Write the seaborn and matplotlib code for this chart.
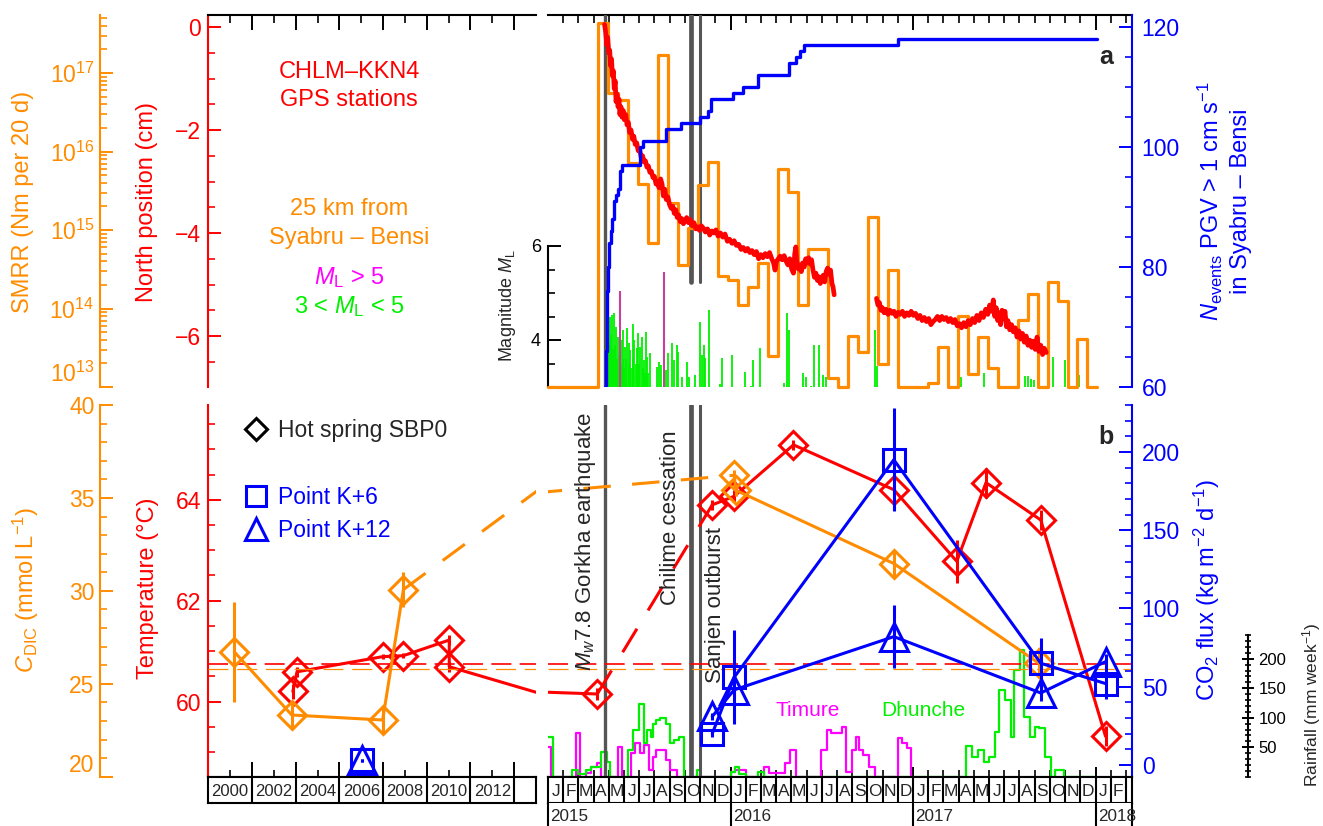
import numpy as np
import matplotlib
matplotlib.use("Agg")
import matplotlib.pyplot as plt
import seaborn as sns
from matplotlib.lines import Line2D
from matplotlib.ticker import NullFormatter

sns.set_style("ticks")
plt.rcParams["font.family"] = ["Liberation Sans", "DejaVu Sans"]
plt.rcParams["mathtext.fontset"] = "custom"
plt.rcParams["mathtext.rm"] = "Liberation Sans"
plt.rcParams["mathtext.it"] = "Liberation Sans:italic"
plt.rcParams["mathtext.bf"] = "Liberation Sans:bold"
plt.rcParams["axes.linewidth"] = 1.5

RED, ORANGE, BLUE = "#ff0000", "#ff8c00", "#0000ff"
LIME, MAGENTA, PURPLE, GREY = "#00f000", "#ff00ff", "#c8409c", "#555555"

# ---------------- panel a data ----------------
# seismic moment release rate 25 km from Syabru-Bensi, log10(Nm per 20 d)
smrr_before = 13.0
smrr_first_bin = 2015.273
smrr_bin_days = 20
smrr_log10 = [17.64, 16.74, 16.66, 15.86, 15.59, 14.84, 17.23, 15.35, 14.56, 15.02,
              15.57, 15.87, 14.41, 14.36, 14.04, 14.27, 14.58, 13.40, 15.78, 15.48,
              14.04, 14.76, 14.76, 13.12, 13.00, 13.65, 13.45, 15.17, 13.29, 14.49,
              13.00, 13.00, 13.00, 13.05, 13.51, 13.00, 13.91, 13.17, 13.64, 13.24,
              13.00, 13.00, 13.85, 14.18, 13.00, 14.34, 14.10, 13.00, 13.61, 13.00]

# cumulative number of events with PGV > 1 cm/s
nev_year = [2015.315, 2015.318, 2015.321, 2015.324, 2015.328, 2015.333, 2015.345, 2015.352,
            2015.363, 2015.375, 2015.384, 2015.394, 2015.405, 2015.504, 2015.520, 2015.646,
            2015.730, 2015.835, 2015.877, 2015.894, 2016.013, 2016.066, 2016.150, 2016.318,
            2016.360, 2016.381, 2016.402, 2016.916, 2018.007]
nev_count = [60, 66, 72, 76, 80, 84, 86, 88, 91, 92, 93, 96, 97, 100, 101, 103, 104, 105,
             106, 108, 109, 110, 112, 114, 115, 116, 117, 118, 118]

# CHLM-KKN4 GPS north position (cm)
gps_seg1 = [(2015.310, 0.05), (2015.316, -0.10), (2015.322, -0.35), (2015.327, -0.20),
            (2015.333, -0.50), (2015.338, -0.45), (2015.343, -0.75), (2015.348, -0.62),
            (2015.353, -0.95), (2015.358, -0.85), (2015.363, -1.20), (2015.368, -1.05),
            (2015.373, -1.45), (2015.378, -1.30), (2015.384, -1.55), (2015.389, -1.40),
            (2015.394, -1.70), (2015.400, -1.55), (2015.405, -1.75), (2015.412, -1.62),
            (2015.418, -1.80), (2015.426, -1.70), (2015.433, -1.90), (2015.440, -1.85),
            (2015.447, -2.05), (2015.455, -2.00), (2015.463, -2.18), (2015.470, -2.12),
            (2015.478, -2.28), (2015.486, -2.25), (2015.494, -2.40), (2015.502, -2.38),
            (2015.510, -2.52), (2015.518, -2.50), (2015.526, -2.62), (2015.534, -2.60),
            (2015.542, -2.72), (2015.550, -2.70), (2015.558, -2.82), (2015.566, -2.80),
            (2015.575, -2.92), (2015.583, -2.90), (2015.592, -3.05), (2015.600, -3.00),
            (2015.608, -3.12), (2015.617, -2.95), (2015.625, -3.05), (2015.632, -3.28),
            (2015.640, -3.15), (2015.648, -3.35), (2015.657, -3.30), (2015.666, -3.45),
            (2015.675, -3.52), (2015.684, -3.48), (2015.692, -3.62), (2015.700, -3.55),
            (2015.708, -3.70), (2015.716, -3.65), (2015.725, -3.78), (2015.733, -3.72),
            (2015.742, -3.82), (2015.751, -3.76), (2015.760, -3.70), (2015.770, -3.80),
            (2015.780, -3.74), (2015.790, -3.86), (2015.800, -3.80), (2015.810, -3.92),
            (2015.820, -3.88), (2015.830, -3.95), (2015.840, -3.86), (2015.850, -3.90),
            (2015.862, -3.98), (2015.874, -3.92), (2015.886, -4.04), (2015.898, -3.96),
            (2015.910, -4.00), (2015.920, -3.94), (2015.932, -4.06), (2015.945, -4.00),
            (2015.958, -4.08), (2015.970, -4.02), (2015.983, -4.16), (2015.995, -4.12),
            (2016.008, -4.20), (2016.020, -4.15), (2016.032, -4.24), (2016.045, -4.22),
            (2016.058, -4.32), (2016.070, -4.28), (2016.082, -4.35), (2016.094, -4.30),
            (2016.106, -4.38), (2016.118, -4.34), (2016.130, -4.42), (2016.142, -4.36),
            (2016.154, -4.50), (2016.166, -4.42), (2016.178, -4.48), (2016.190, -4.40),
            (2016.202, -4.46), (2016.214, -4.38), (2016.226, -4.50), (2016.236, -4.58),
            (2016.244, -4.72), (2016.252, -4.55), (2016.262, -4.50), (2016.272, -4.45),
            (2016.283, -4.52), (2016.294, -4.44), (2016.305, -4.55), (2016.315, -4.62),
            (2016.325, -4.50), (2016.335, -4.70), (2016.345, -4.78), (2016.352, -4.40),
            (2016.358, -4.27), (2016.364, -4.60), (2016.372, -4.70), (2016.380, -4.62),
            (2016.388, -4.75), (2016.396, -4.58), (2016.404, -4.66), (2016.412, -4.50),
            (2016.420, -4.58), (2016.428, -4.48), (2016.436, -4.60), (2016.444, -4.52),
            (2016.452, -4.72), (2016.460, -4.86), (2016.468, -4.78), (2016.476, -4.92),
            (2016.484, -4.85), (2016.492, -4.98), (2016.500, -4.90), (2016.508, -4.82),
            (2016.516, -4.95), (2016.524, -4.75), (2016.532, -4.68), (2016.540, -4.80),
            (2016.548, -4.72), (2016.556, -4.98), (2016.562, -5.05), (2016.568, -5.20)]
gps_seg2 = [(2016.800, -5.27), (2016.808, -5.40), (2016.816, -5.35), (2016.824, -5.50),
            (2016.832, -5.45), (2016.842, -5.55), (2016.852, -5.48), (2016.863, -5.58),
            (2016.874, -5.50), (2016.885, -5.56), (2016.896, -5.52), (2016.907, -5.62),
            (2016.918, -5.54), (2016.930, -5.58), (2016.942, -5.52), (2016.954, -5.62),
            (2016.966, -5.55), (2016.978, -5.60), (2016.990, -5.52), (2017.002, -5.60),
            (2017.014, -5.56), (2017.026, -5.66), (2017.038, -5.60), (2017.050, -5.70),
            (2017.062, -5.64), (2017.074, -5.72), (2017.086, -5.66), (2017.098, -5.78),
            (2017.110, -5.72), (2017.122, -5.68), (2017.134, -5.62), (2017.146, -5.70),
            (2017.158, -5.62), (2017.170, -5.68), (2017.182, -5.64), (2017.194, -5.72),
            (2017.206, -5.66), (2017.218, -5.74), (2017.230, -5.68), (2017.242, -5.80),
            (2017.254, -5.76), (2017.266, -5.84), (2017.278, -5.74), (2017.290, -5.82),
            (2017.302, -5.70), (2017.314, -5.78), (2017.326, -5.66), (2017.338, -5.74),
            (2017.350, -5.60), (2017.362, -5.70), (2017.374, -5.55), (2017.386, -5.64),
            (2017.398, -5.48), (2017.410, -5.58), (2017.420, -5.40), (2017.430, -5.52),
            (2017.440, -5.30), (2017.448, -5.62), (2017.456, -5.45), (2017.464, -5.70),
            (2017.472, -5.55), (2017.480, -5.78), (2017.488, -5.50), (2017.496, -5.66),
            (2017.504, -5.52), (2017.512, -5.82), (2017.520, -5.70), (2017.530, -5.88),
            (2017.540, -5.78), (2017.550, -5.92), (2017.560, -5.84), (2017.570, -6.02),
            (2017.580, -5.90), (2017.590, -6.06), (2017.600, -5.95), (2017.610, -6.12),
            (2017.620, -6.00), (2017.630, -6.18), (2017.640, -6.08), (2017.650, -6.22),
            (2017.660, -6.10), (2017.670, -6.26), (2017.680, -6.02), (2017.690, -6.30),
            (2017.700, -6.18), (2017.710, -6.36), (2017.720, -6.24), (2017.730, -6.32)]

# local magnitudes, 3 < ML < 5 and ML > 5
quakes = [(2015.322, 4.85), (2015.326, 4.85), (2015.330, 4.30), (2015.335, 3.90), (2015.340, 4.50),
          (2015.345, 4.10), (2015.349, 4.53), (2015.355, 3.80), (2015.362, 4.58), (2015.367, 3.90),
          (2015.373, 4.28), (2015.378, 3.60), (2015.382, 4.07), (2015.388, 3.70), (2015.398, 3.50),
          (2015.404, 4.00), (2015.409, 3.60), (2015.413, 4.21), (2015.418, 3.40), (2015.422, 3.86),
          (2015.428, 3.60), (2015.435, 4.25), (2015.442, 3.93), (2015.446, 3.50), (2015.450, 3.79),
          (2015.456, 3.40), (2015.464, 4.35), (2015.468, 3.60), (2015.473, 4.00), (2015.480, 3.50),
          (2015.486, 3.82), (2015.490, 3.30), (2015.495, 4.14), (2015.500, 3.50), (2015.504, 3.86),
          (2015.514, 4.07), (2015.520, 3.40), (2015.526, 3.57), (2015.532, 3.30), (2015.537, 4.18),
          (2015.545, 3.64), (2015.550, 3.30), (2015.559, 3.72), (2015.596, 3.43), (2015.607, 3.54),
          (2015.618, 3.47), (2015.647, 3.36), (2015.660, 3.72), (2015.679, 3.94), (2015.688, 3.57),
          (2015.706, 3.89), (2015.715, 3.75), (2015.734, 3.22), (2015.762, 3.54), (2015.771, 3.22),
          (2015.807, 3.25), (2015.831, 4.39), (2015.844, 3.68), (2015.853, 3.89), (2015.862, 3.61),
          (2015.880, 4.64), (2015.944, 3.06), (2015.953, 3.61), (2016.008, 3.68), (2016.082, 3.32),
          (2016.113, 3.02), (2016.122, 3.57), (2016.164, 3.82), (2016.292, 3.08), (2016.310, 4.57),
          (2016.319, 4.21), (2016.398, 3.29), (2016.411, 3.22), (2016.442, 3.02), (2016.460, 3.89),
          (2016.486, 3.90), (2016.508, 3.25), (2016.526, 3.22), (2016.790, 4.21), (2016.800, 3.45),
          (2016.916, 3.79), (2017.262, 3.22), (2017.388, 3.29), (2017.614, 3.24), (2017.629, 3.23),
          (2017.644, 3.18), (2017.661, 3.15), (2017.765, 3.64), (2017.833, 3.57), (2017.912, 3.26)]
big_quake_year = [2015.395, 2015.636]
big_quake_ml = [5.04, 5.44]

# key events
event_year = [2015.315, 2015.783, 2015.835]
event_name = ["$M_w$7.8 Gorkha earthquake", "Chilime cessation", "Sanjen outburst"]

# ---------------- panel b data ----------------
temp_year = [2003.87, 2004.06, 2007.98, 2008.93, 2011.03, 2011.03, 2015.27, 2015.90,
             2016.02, 2016.345, 2016.895, 2017.24, 2017.40, 2017.70, 2018.055]
temp_c = [60.20, 60.59, 60.89, 60.91, 61.22, 60.69, 60.15, 63.90,
          64.07, 65.09, 64.20, 62.78, 64.34, 63.60, 59.31]
temp_err = [0.15, 0.10, 0.05, 0.05, 0.10, 0.10, 0.12, 0.10, 0.12, 0.10, 0.40, 0.42, 0.30, 0.20, 0.20]
temp_ref = 60.75

dic_year = [2001.19, 2003.82, 2007.98, 2008.93, 2016.02, 2016.03, 2016.895, 2017.69]
dic_mmol = [26.72, 23.32, 23.05, 30.07, 36.22, 35.41, 31.47, 26.10]
dic_err = [2.70, 0.75, 0.75, 0.95, 0.30, 0.30, 0.75, 0.80]
dic_ref = 25.8

k6_year = [2007.02, 2015.90, 2016.02, 2016.895, 2017.70, 2018.055]
k6_flux = [3, 20, 56, 195, 65, 52]
k6_err = [1, 2, 30, 33, 16, 10]
k12_year = [2007.02, 2015.90, 2016.02, 2016.895, 2017.70, 2018.055]
k12_flux = [3, 31, 48, 82, 46, 66]
k12_err = [1, 2, 3, 20, 5, 5]

# weekly rainfall (mm), step starts
timure_year = [2015.000, 2015.017, 2015.153, 2015.174, 2015.206, 2015.237, 2015.269, 2015.290,
               2015.384, 2015.405, 2015.457, 2015.478, 2015.504, 2015.525, 2015.552, 2015.573,
               2015.594, 2015.646, 2015.667, 2015.709, 2016.003, 2016.024, 2016.087, 2016.181,
               2016.213, 2016.297, 2016.328, 2016.360, 2016.496, 2016.527, 2016.548, 2016.611,
               2016.632, 2016.664, 2016.685, 2016.706, 2016.727, 2016.758, 2016.790, 2016.916,
               2016.937, 2016.968, 2016.989, 2016.995]
timure_mm = [51, 0, 74, 0, 6, 17, 23, 0, 51, 0, 40, 57, 40, 54, 11, 34, 45, 28, 11, 0,
             8, 11, 0, 17, 6, 23, 45, 0, 45, 79, 74, 85, 8, 45, 68, 45, 37, 17, 0, 65,
             57, 48, 0, 0]
dhunche_year = [2015.000, 2015.027, 2015.132, 2015.164, 2015.206, 2015.237, 2015.290, 2015.321,
                2015.342, 2015.436, 2015.468, 2015.499, 2015.525, 2015.541, 2015.562, 2015.573,
                2015.594, 2015.615, 2015.646, 2015.667, 2015.688, 2015.720, 2015.747, 2015.814,
                2015.835, 2016.003, 2016.024, 2016.045, 2016.087, 2016.150, 2016.181, 2017.293,
                2017.325, 2017.356, 2017.388, 2017.419, 2017.451, 2017.472, 2017.503, 2017.535,
                2017.556, 2017.587, 2017.608, 2017.640, 2017.671, 2017.692, 2017.724, 2017.755,
                2017.776, 2017.828, 2017.990]
dhunche_mm = [68, 0, 11, 5, 11, 17, 42, 25, 0, 45, 79, 124, 57, 79, 68, 90, 96, 99, 90, 57,
              62, 68, 0, 11, 0, 8, 17, 5, 0, 8, 0, 52, 34, 45, 25, 34, 76, 147, 130, 68,
              181, 215, 102, 68, 85, 82, 34, 0, 11, 0, 0]

# axis labels of the date rows
month_letters = ["J", "F", "M", "A", "M", "J", "J", "A", "S", "O", "N", "D"]
n_months = 38
right_years = [2015, 2016, 2017, 2018]
left_years = [2000, 2002, 2004, 2006, 2008, 2010, 2012]

# ---------------- layout ----------------
W, H = 1323, 826
fig = plt.figure(figsize=(W / 100, H / 100), dpi=100)

XL0, XL1, XR0, XR1 = 208.3, 536.0, 548.0, 1132.0
YA0, YA1, YB0, YB1, YM1 = 15.0, 387.0, 405.0, 776.7, 802.7
LEFT_SPAN, RIGHT_SPAN = (2000, 2015), (2015, 2018.2)
OUT_L = -(XL0 - 100.0) / (XL1 - XL0)
RAIN_POS = (1248.0 - XR0) / (XR1 - XR0)
month_edges = 2015 + np.arange(1, n_months + 1) / 12


def box(x0, x1, y0, y1):
    return [x0 / W, 1 - y1 / H, (x1 - x0) / W, (y1 - y0) / H]


def ftext(x, y, s, **kw):
    kw.setdefault("ha", "center")
    kw.setdefault("va", "center")
    fig.text(x / W, 1 - y / H, s, **kw)


def bare(ax):
    for sp in ax.spines.values():
        sp.set_visible(False)
    ax.tick_params(which="both", left=False, right=False, top=False, bottom=False,
                   labelleft=False, labelright=False, labeltop=False, labelbottom=False)


def yside(ax, side, color, major, minor, lim, size=16.5, pad=5, direction="in", lmaj=9.5, lmin=5):
    sp = ax.spines[side]
    sp.set_visible(True)
    sp.set_color(color)
    sp.set_linewidth(1.5)
    ax.set_yticks(major)
    ax.set_yticks(minor, minor=True)
    ax.yaxis.set_minor_formatter(NullFormatter())
    ax.tick_params(axis="y", which="major", direction=direction, length=lmaj, width=1.4,
                   color=color, labelcolor=color, labelsize=size, pad=pad,
                   **{side: True, "label" + side: True})
    ax.tick_params(axis="y", which="minor", direction=direction, length=lmin, width=1.2,
                   color=color, **{side: True})
    ax.set_ylim(lim)


def xside(ax, side, major, minor, lim, lmaj, lmin):
    sp = ax.spines[side]
    sp.set_visible(True)
    sp.set_color("k")
    sp.set_linewidth(1.5)
    ax.set_xticks(major)
    ax.set_xticks(minor, minor=True)
    ax.tick_params(axis="x", which="major", direction="in", length=lmaj, width=1.4, color="k", **{side: True})
    ax.tick_params(axis="x", which="minor", direction="in", length=lmin, width=1.2, color="k", **{side: True})
    ax.set_xlim(lim)


def inside(xs, ys, span):
    keep = [(x, y) for x, y in zip(xs, ys) if span[0] <= x < span[1]]
    return [k[0] for k in keep], [k[1] for k in keep]


ax_tl = fig.add_axes(box(XL0, XL1, YA0, YA1))
ax_tl_s = ax_tl.twinx()
ax_tr = fig.add_axes(box(XR0, XR1, YA0, YA1))   # magnitude host
ax_tr_s = ax_tr.twinx()
ax_tr_g = ax_tr.twinx()
ax_tr_n = ax_tr.twinx()
ax_bl = fig.add_axes(box(XL0, XL1, YB0, YB1))
ax_bl_c = ax_bl.twinx()
ax_bl_f = ax_bl.twinx()
ax_br = fig.add_axes(box(XR0, XR1, YB0, YB1))   # rainfall host
ax_br_t = ax_br.twinx()
ax_br_c = ax_br.twinx()
ax_br_f = ax_br.twinx()
for a in [ax_tl, ax_tl_s, ax_tr, ax_tr_s, ax_tr_g, ax_tr_n,
          ax_bl, ax_bl_c, ax_bl_f, ax_br, ax_br_t, ax_br_c, ax_br_f]:
    bare(a)
    a.patch.set_visible(False)

ax_tl_s.set_yscale("log")
ax_tr_s.set_yscale("log")

# ---------------- panel a plotting ----------------
qy, qm = zip(*quakes)
ax_tr.vlines(qy, 3, qm, colors=LIME, lw=1.3)
ax_tr.vlines(big_quake_year, 3, big_quake_ml, colors=PURPLE, lw=1.5)

for yr, lw, y0 in zip(event_year, [2.4, 3.4, 2.2], [0.0, 0.282, 0.282]):
    ax_tr_s.axvline(yr, ymin=y0, ymax=1, color=GREY, lw=lw, zorder=1)

smrr_edges = smrr_first_bin + np.arange(len(smrr_log10) + 1) * smrr_bin_days / 365.25
smrr_x = np.concatenate([[2015.0], smrr_edges])
smrr_y = 10.0 ** np.array([smrr_before] + smrr_log10 + [smrr_log10[-1]])
sns.lineplot(x=smrr_x, y=smrr_y, ax=ax_tr_s, drawstyle="steps-post", color=ORANGE, lw=2.3,
             estimator=None, sort=False, legend=False, clip_on=False)

for seg in (gps_seg1, gps_seg2):
    gx, gy = zip(*seg)
    sns.lineplot(x=list(gx), y=list(gy), ax=ax_tr_g, color=RED, lw=3.4,
                 estimator=None, sort=False, legend=False)

sns.lineplot(x=nev_year, y=nev_count, ax=ax_tr_n, drawstyle="steps-post", color=BLUE, lw=2.4,
             estimator=None, sort=False, legend=False)

# axes of panel a
yside(ax_tl, "left", RED, [-6, -4, -2, 0], np.arange(-7, 0.5, 0.5), (-6.99, 0.233))
yside(ax_tl_s, "left", ORANGE, [1e13, 1e14, 1e15, 1e16, 1e17],
      [m * 10.0 ** e for e in range(13, 18) for m in range(2, 10)], (1e13, 10 ** 17.74), pad=4)
ax_tl_s.spines["left"].set_position(("axes", OUT_L))
ax_tl_s.yaxis.get_major_ticks()[0].label1.set_verticalalignment("bottom")
xside(ax_tl, "top", np.arange(2000, 2015, 2), np.arange(2000, 2015), LEFT_SPAN, 11, 6)

yside(ax_tr, "left", "k", [4, 6], [3.5, 4.5, 5, 5.5], (3, 3 + 372 / 47), size=13, pad=5)
ax_tr.spines["left"].set_bounds(3, 6)
ax_tr_s.set_ylim(1e13, 10 ** 17.74)
ax_tr_g.set_ylim(-6.99, 0.233)
yside(ax_tr_n, "right", BLUE, [60, 80, 100, 120], np.arange(60, 125, 5), (60, 122), pad=7)
xside(ax_tr, "top", [2016, 2017, 2018], month_edges, RIGHT_SPAN, 11, 6)

# ---------------- panel b plotting ----------------
sns.lineplot(x=timure_year, y=timure_mm, ax=ax_br, drawstyle="steps-post", color=MAGENTA, lw=1.6,
             estimator=None, sort=False, legend=False)
sns.lineplot(x=dhunche_year, y=dhunche_mm, ax=ax_br, drawstyle="steps-post", color=LIME, lw=1.6,
             estimator=None, sort=False, legend=False)

for yr, lw in zip(event_year, [2.4, 3.4, 2.2]):
    ax_br_t.axvline(yr, color=GREY, lw=lw, zorder=1)

mk = dict(ls="none", mfc="none", mew=2.2)
for ax_t, ax_c, ax_f, span in [(ax_bl, ax_bl_c, ax_bl_f, LEFT_SPAN),
                               (ax_br_t, ax_br_c, ax_br_f, RIGHT_SPAN)]:
    # temperature
    ax_t.axhline(temp_ref, color=RED, lw=1.2, dashes=(12, 5))
    sns.lineplot(x=temp_year[:7], y=temp_c[:7], ax=ax_t, color=RED, lw=2.2,
                 estimator=None, sort=False, legend=False)
    ax_t.plot(temp_year[6:8], temp_c[6:8], color=RED, lw=2.2, dashes=(9, 7))
    sns.lineplot(x=temp_year[7:], y=temp_c[7:], ax=ax_t, color=RED, lw=2.2,
                 estimator=None, sort=False, legend=False)
    ax_t.errorbar(temp_year, temp_c, yerr=temp_err, fmt="none", ecolor=RED, elinewidth=2.2, capsize=0)
    ax_t.plot(*inside(temp_year, temp_c, span), marker="D", ms=14.5, mec=RED, **mk)
    # dissolved inorganic carbon
    ax_c.axhline(dic_ref, color=ORANGE, lw=0.9, dashes=(16, 7))
    sns.lineplot(x=dic_year[:4], y=dic_mmol[:4], ax=ax_c, color=ORANGE, lw=2.2,
                 estimator=None, sort=False, legend=False)
    ax_c.plot(dic_year[3:5], dic_mmol[3:5], color=ORANGE, lw=2.2, dashes=(9, 7))
    sns.lineplot(x=dic_year[4:], y=dic_mmol[4:], ax=ax_c, color=ORANGE, lw=2.2,
                 estimator=None, sort=False, legend=False)
    ax_c.errorbar(dic_year, dic_mmol, yerr=dic_err, fmt="none", ecolor=ORANGE, elinewidth=2.2, capsize=0)
    ax_c.plot(*inside(dic_year, dic_mmol, span), marker="D", ms=14.5, mec=ORANGE, **mk)
    # CO2 flux
    sns.lineplot(x=k6_year[1:], y=k6_flux[1:], ax=ax_f, color=BLUE, lw=2.2,
                 estimator=None, sort=False, legend=False)
    sns.lineplot(x=k12_year[1:], y=k12_flux[1:], ax=ax_f, color=BLUE, lw=2.2,
                 estimator=None, sort=False, legend=False)
    ax_f.errorbar(k6_year, k6_flux, yerr=k6_err, fmt="none", ecolor=BLUE, elinewidth=2.2, capsize=0)
    ax_f.errorbar(k12_year, k12_flux, yerr=k12_err, fmt="none", ecolor=BLUE, elinewidth=2.2, capsize=0)
    ax_f.plot(*inside(k6_year, k6_flux, span), marker="s", ms=16, mec=BLUE, **mk)
    ax_f.plot(*inside(k12_year, k12_flux, span), marker="^", ms=20, mec=BLUE, **mk)

# axes of panel b
yside(ax_bl, "left", RED, [60, 62, 64], np.arange(58.5, 66, 0.5), (58.51, 65.88))
yside(ax_bl_c, "left", ORANGE, [20, 25, 30, 35, 40], np.arange(20, 41, 1), (20, 40), pad=4)
ax_bl_c.spines["left"].set_position(("axes", OUT_L))
ax_bl_c.yaxis.get_major_ticks()[0].label1.set_verticalalignment("bottom")
ax_bl_f.set_ylim(-7.5, 230)
xside(ax_bl, "bottom", np.arange(2000, 2015, 2), np.arange(2000, 2015), LEFT_SPAN, 11, 5)

ax_br_t.set_ylim(58.51, 65.88)
ax_br_c.set_ylim(20, 40)
yside(ax_br_f, "right", BLUE, [0, 50, 100, 150, 200], np.arange(0, 231, 10), (-7.5, 230), pad=7)
yside(ax_br, "right", "k", [50, 100, 150, 200], np.arange(0, 241, 10), (0, 630),
      size=12, pad=3, direction="inout", lmaj=9, lmin=5)
ax_br.spines["right"].set_position(("axes", RAIN_POS))
ax_br.spines["right"].set_bounds(0, 240)
xside(ax_br, "bottom", [2016, 2017, 2018], month_edges, RIGHT_SPAN, 7, 5)

# legends of panel b
leg1 = ax_bl.legend(handles=[Line2D([], [], marker="D", ms=11.5, mec="k", **mk)],
                    labels=["Hot spring SBP0"], loc="center left", bbox_to_anchor=(0.112, 0.931),
                    frameon=False, fontsize=16.5, handlelength=1.0, handletextpad=0.45,
                    borderpad=0, borderaxespad=0)
ax_bl.add_artist(leg1)
ax_bl.legend(handles=[Line2D([], [], marker="s", ms=14, mec=BLUE, **mk),
                      Line2D([], [], marker="^", ms=16.5, mec=BLUE, **mk)],
             labels=["Point K+6", "Point K+12"], labelcolor=BLUE, loc="center left",
             bbox_to_anchor=(0.112, 0.707), frameon=False, fontsize=16.5, handlelength=1.0,
             handletextpad=0.45, labelspacing=0.45, borderpad=0, borderaxespad=0)

# ---------------- date rows ----------------
ax_yl = fig.add_axes(box(XL0, XL1, YB1, YM1))
ax_mon = fig.add_axes(box(XR0, XR1, YB1, YM1))
ax_yr = fig.add_axes(box(XR0, XR1, YM1, H + 6))
for a, span in [(ax_yl, LEFT_SPAN), (ax_mon, RIGHT_SPAN), (ax_yr, RIGHT_SPAN)]:
    a.set_xlim(span)
    a.set_ylim(0, 1)
    a.set_xticks([])
    a.set_yticks([])
    for sp in a.spines.values():
        sp.set_linewidth(1.5)
        sp.set_color("k")
ax_yr.spines["bottom"].set_visible(False)
ax_yr.spines["top"].set_visible(False)

ax_yl.vlines(left_years[1:] + [2014], 0, 1, colors="k", lw=1.5)
for yr in left_years:
    ax_yl.text(yr + 1, 0.45, str(yr), ha="center", va="center", fontsize=12)

ax_mon.vlines(month_edges, 0, 1, colors="k", lw=1.5)
for i in range(n_months):
    ax_mon.text(2015 + (i + 0.5) / 12, 0.45, month_letters[i % 12], ha="center", va="center",
                fontsize=12.5)

ax_yr.vlines(right_years[1:], 0, 1, colors="k", lw=1.5)
for yr in right_years:
    ax_yr.text(yr + 0.012, 0.52, str(yr), ha="left", va="center", fontsize=12.3)

# ---------------- labels and annotations ----------------
ftext(23, 202, "SMRR (Nm per 20 d)", color=ORANGE, size=17, rotation=90)
ftext(147, 202, "North position (cm)", color=RED, size=17, rotation=90)
ftext(1224, 201, "$N_{\\rm events}$ PGV > 1 cm s$^{-1}$\nin Syabru – Bensi", color=BLUE, size=17,
      rotation=90, multialignment="center", linespacing=1.25)
ftext(507, 306, "Magnitude $M_{\\rm L}$", size=13, rotation=90)
ftext(349, 72, "CHLM–KKN4", color=RED, size=17)
ftext(349, 100, "GPS stations", color=RED, size=17)
ftext(349, 209, "25 km from", color=ORANGE, size=17)
ftext(349, 238, "Syabru – Bensi", color=ORANGE, size=17)
ftext(349, 278, "$M_{\\rm L}$ > 5", color=MAGENTA, size=17)
ftext(349, 307, "3 < $M_{\\rm L}$ < 5", color=LIME, size=17)
ftext(1106, 57, "a", size=18, weight="bold")

ftext(26, 590, "$C_{\\rm DIC}$ (mmol L$^{-1}$)", color=ORANGE, size=17, rotation=90)
ftext(148, 588, "Temperature (°C)", color=RED, size=17, rotation=90)
ftext(1207, 590, "CO$_2$ flux (kg m$^{-2}$ d$^{-1}$)", color=BLUE, size=17, rotation=90)
ftext(1312, 705, "Rainfall (mm week$^{-1}$)", size=12.5, rotation=90)
ftext(1106, 437, "b", size=18, weight="bold")
for name, (cx, cy) in zip(event_name, [(586, 541), (671, 518), (715.5, 605)]):
    ftext(cx, cy, name, size=16, rotation=90)
ftext(808, 711, "Timure", color=MAGENTA, size=15)
ftext(923, 711, "Dhunche", color=LIME, size=15)

fig.savefig("out.png", dpi=100)
